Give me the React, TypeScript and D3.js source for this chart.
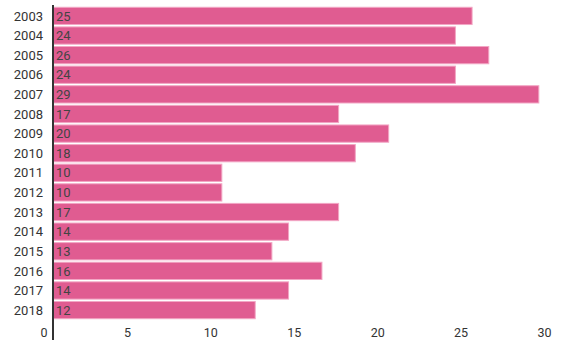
import React, { useEffect, useRef } from 'react'
import * as d3 from 'd3'

const years = ['2003', '2004', '2005', '2006', '2007', '2008', '2009', '2010', '2011', '2012', '2013', '2014', '2015', '2016', '2017', '2018']
const values = [25, 24, 26, 24, 29, 17, 20, 18, 10, 10, 17, 14, 13, 16, 14, 12]
const ticks = [0, 5, 10, 15, 20, 25, 30]

const W = 576
const H = 358
const axisX = 53
const barPad = 11 // bars run a little past their tick value in the original

const App = () => {
  const ref = useRef<SVGSVGElement>(null)

  useEffect(() => {
    const svg = d3.select(ref.current)
    svg.selectAll('*').remove()

    const x = d3.scaleLinear().domain([0, 30]).range([44, 544.5])
    const y = d3.scaleBand().domain(years).range([6.5, 319.5]).paddingInner(0.12).paddingOuter(0.04)

    const rows = svg.append('g')
      .selectAll('g')
      .data(years)
      .join('g')

    rows.append('rect')
      .attr('x', axisX)
      .attr('y', d => y(d)!)
      .attr('width', (d, i) => x(values[i]) + barPad - axisX)
      .attr('height', y.bandwidth())
      .attr('fill', '#e05c91')
      .attr('stroke', '#f2a6c4')
      .attr('stroke-width', 1)

    rows.append('text')
      .attr('x', axisX + 3)
      .attr('y', d => y(d)! + y.bandwidth() / 2)
      .attr('dy', '0.36em')
      .attr('fill', '#444')
      .attr('font-size', 13)
      .text((d, i) => values[i])

    rows.append('text')
      .attr('x', 43)
      .attr('y', d => y(d)! + y.bandwidth() / 2)
      .attr('dy', '0.36em')
      .attr('text-anchor', 'end')
      .attr('fill', '#333')
      .attr('font-size', 13)
      .text(d => d)

    svg.append('g')
      .selectAll('text')
      .data(ticks)
      .join('text')
      .attr('x', d => d === 0 ? 47.5 : x(d))
      .attr('y', 337)
      .attr('text-anchor', d => d === 0 ? 'end' : 'middle')
      .attr('fill', '#333')
      .attr('font-size', 12.5)
      .text(d => d)

    svg.append('line')
      .attr('x1', axisX)
      .attr('x2', axisX)
      .attr('y1', 5)
      .attr('y2', 340)
      .attr('stroke', '#333')
      .attr('stroke-width', 2)
  })

  return (
    <svg ref={ref} width={W} height={H} style={{ position: 'absolute', left: 0, top: 0, fontFamily: 'Roboto' }} />
  )
}

export default App
